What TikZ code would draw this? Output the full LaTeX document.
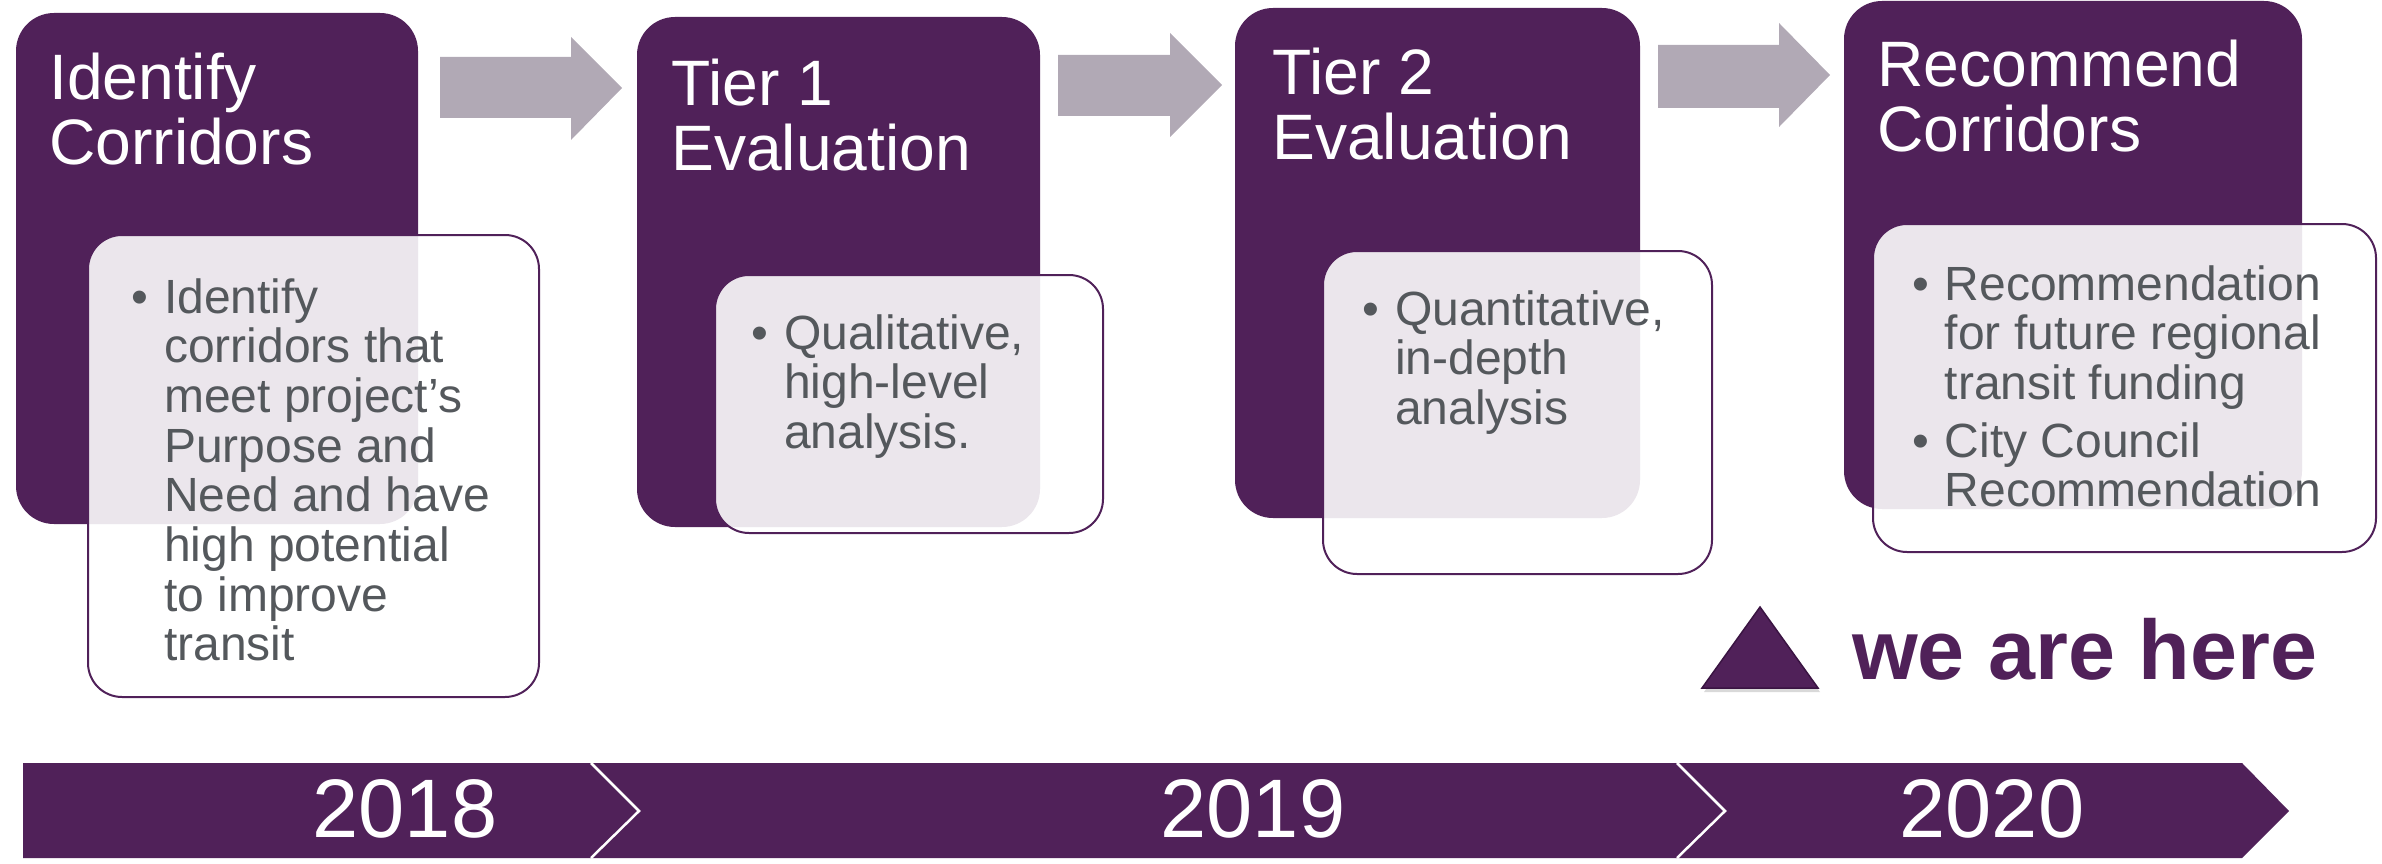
\documentclass[tikz,border=0pt]{standalone}
\usepackage{fontspec}
\setmainfont{Liberation Sans}
\usetikzlibrary{shadows}
\definecolor{plum}{RGB}{80,33,89}
\definecolor{plumdark}{RGB}{58,20,66}
\definecolor{arrowgrey}{RGB}{177,169,181}
\definecolor{txtgrey}{RGB}{84,88,92}
\newcommand{\mylines}[1]{\parbox[t]{480pt}{\raggedright #1}}
\begin{document}
\begin{tikzpicture}[x=1pt,y=-1pt,
  pbox/.style={fill=plum, rounded corners=38pt},
  ibox/.style={draw=plum, line width=2pt, fill=white, fill opacity=0.89, rounded corners=34pt},
  arr/.style={fill=arrowgrey},
  ttl/.style={anchor=base west, inner sep=0, text=white, font=\fontsize{64.2}{65}\selectfont},
  btxt/.style={anchor=base west, inner sep=0, text=txtgrey, font=\fontsize{48}{49.7}\selectfont},
  yr/.style={anchor=base, inner sep=0, text=white, font=\fontsize{83}{83}\selectfont},
  seg/.style={fill=plum},
  sep/.style={draw=white, line width=2.5pt},
  here/.style={anchor=base west, inner sep=0, text=plum, font=\fontsize{84.5}{84}\selectfont\bfseries}]
\useasboundingbox (0,0) rectangle (2382,864);

% purple stage boxes
\fill[pbox] (16,13) rectangle (418,524);
\fill[pbox] (637,17) rectangle (1040,527);
\fill[pbox] (1235,8) rectangle (1640,518);
\fill[pbox] (1844,1) rectangle (2302,509);

% titles
\node[ttl] (t1) at (49,100) {\mylines{Identify\\Corridors}};
\node[ttl] (t2) at (671,106) {\mylines{Tier 1\\Evaluation}};
\node[ttl] (t3) at (1272,95) {\mylines{Tier 2\\Evaluation}};
\node[ttl] (t4) at (1877,87) {\mylines{Recommend\\Corridors}};

% block arrows
\fill[arr] (440,57) -- (571,57) -- (571,37) -- (622,88) -- (571,140) -- (571,118) -- (440,118) -- cycle;
\fill[arr] (1058,55) -- (1170,55) -- (1170,33) -- (1222,85) -- (1170,137) -- (1170,116) -- (1058,116) -- cycle;
\fill[arr] (1658,45) -- (1779,45) -- (1779,23) -- (1830,75) -- (1779,127) -- (1779,108) -- (1658,108) -- cycle;

% detail boxes
\draw[ibox] (88,235) rectangle (539,697);
\draw[ibox] (715,275) rectangle (1103,533);
\draw[ibox] (1323,251) rectangle (1712,574);
\draw[ibox] (1873,224) rectangle (2376,552);

% bullet texts
\node[btxt] (d1) at (131,313) {•};
\node[btxt] (x1) at (164,313) {\mylines{Identify\\corridors that\\meet project’s\\Purpose and\\Need and have\\high potential\\to improve\\transit}};
\node[btxt] (d2) at (751,349) {•};
\node[btxt] (x2) at (784,349) {\mylines{Qualitative,\\high-level\\analysis.}};
\node[btxt] (d3) at (1362,325) {•};
\node[btxt] (x3) at (1395,325) {\mylines{Quantitative,\\in-depth\\analysis}};
\node[btxt] (d4) at (1912,300) {•};
\node[btxt] (x4) at (1944.5,300) {\mylines{Recommendation\\for future regional\\transit funding}};
\node[btxt] (d5) at (1912,457) {•};
\node[btxt] (x5) at (1944.5,457) {\mylines{City Council\\Recommendation}};

% timeline
\fill[seg] (23,763) -- (590,763) -- (638,811) -- (590,858) -- (23,858) -- cycle;
\fill[seg] (590,763) -- (1676,763) -- (1724,811) -- (1676,858) -- (590,858) -- (638,811) -- cycle;
\fill[seg] (1676,763) -- (2242,763) -- (2289,811) -- (2242,858) -- (1676,858) -- (1724,811) -- cycle;
\draw[sep] (591,763) -- (639,811) -- (591,858);
\draw[sep] (1677,763) -- (1725,811) -- (1677,858);
\node[yr] (y1) at (405,837) {2018};
\node[yr] (y2) at (1253,837) {2019};
\node[yr] (y3) at (1992,837) {2020};

% we are here marker
\filldraw[fill=plum, draw=plumdark, line width=1.5pt, drop shadow={shadow xshift=2pt, shadow yshift=-4pt, opacity=0.3}] (1760,607) -- (1818,688) -- (1702,688) -- cycle;
\node[here] (wah) at (1852,679) {we are here};
\end{tikzpicture}
\end{document}
